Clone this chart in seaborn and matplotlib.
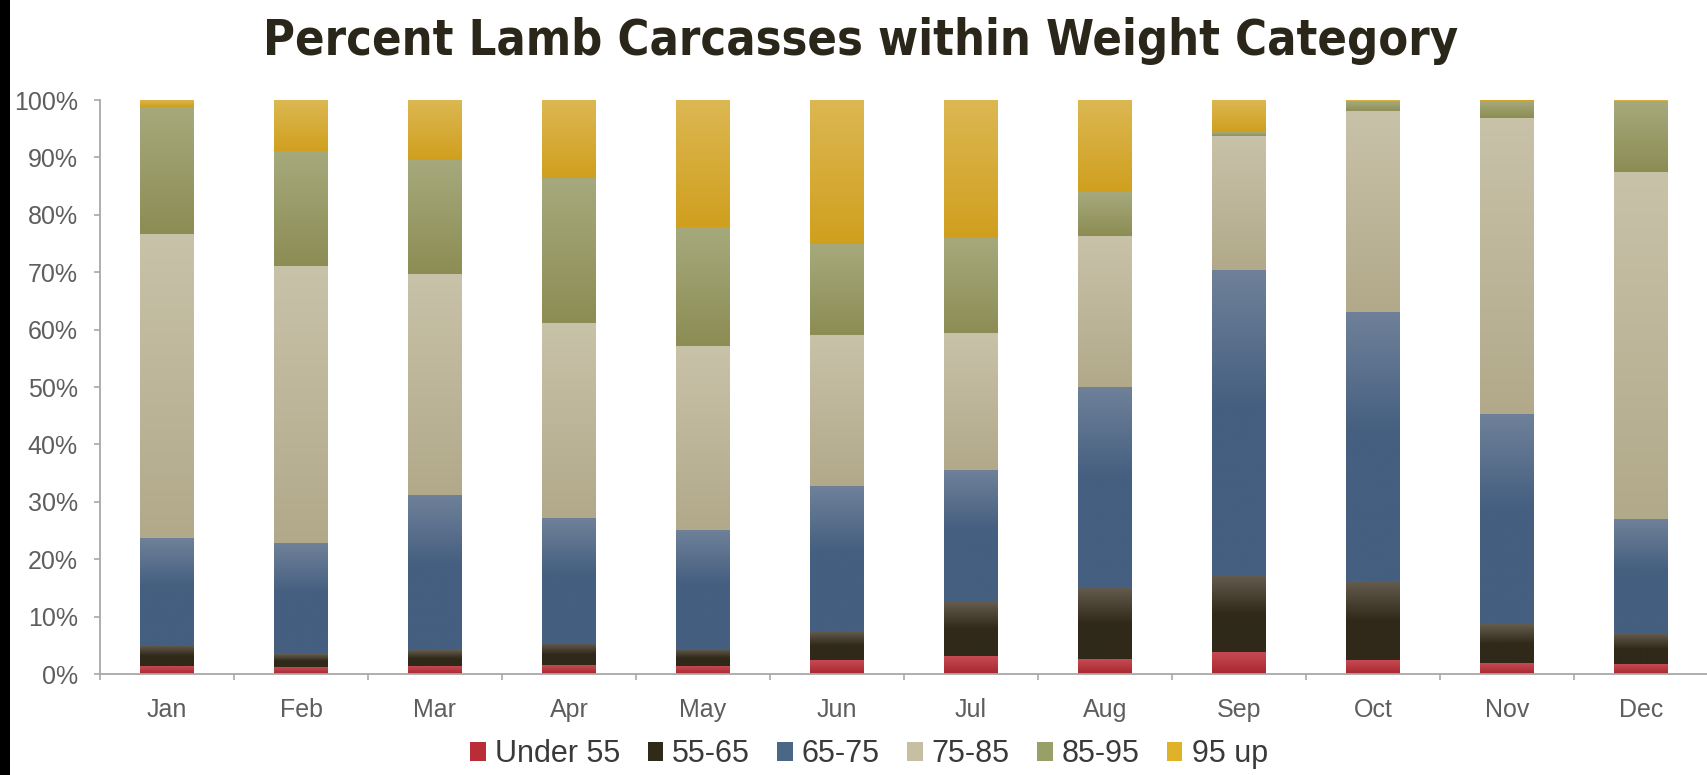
import os
import numpy as np
import pandas as pd
import matplotlib
matplotlib.use("Agg")
import matplotlib.pyplot as plt
import seaborn as sns
from matplotlib import font_manager
from matplotlib.patches import Patch, Rectangle
from matplotlib.colors import to_rgb

months = ["Jan", "Feb", "Mar", "Apr", "May", "Jun",
          "Jul", "Aug", "Sep", "Oct", "Nov", "Dec"]
categories = ["Under 55", "55-65", "65-75", "75-85", "85-95", "95 up"]

# Share of lamb carcasses (%) in each weight class, by month
under_55 = [1.3, 1.1, 1.3, 1.4, 1.3, 2.4, 3.1, 2.5, 3.7, 2.3, 1.8, 1.6]
w_55_65 = [3.8, 2.4, 2.8, 4.0, 3.1, 5.0, 9.4, 12.7, 13.5, 13.9, 6.9, 5.5]
w_65_75 = [18.5, 19.3, 27.0, 21.7, 20.6, 25.4, 22.9, 34.8, 53.0, 46.8, 36.5, 19.8]
w_75_85 = [53.0, 48.1, 38.4, 33.9, 32.2, 26.3, 23.9, 26.3, 23.4, 34.9, 51.7, 60.6]
w_85_95 = [22.1, 20.1, 20.0, 25.4, 20.7, 15.8, 16.6, 7.6, 0.8, 1.8, 2.9, 12.2]
w_95_up = [1.3, 9.0, 10.5, 13.6, 22.1, 25.1, 24.1, 16.1, 5.6, 0.3, 0.2, 0.3]

y_ticks = list(range(0, 101, 10))
y_tick_labels = [f"{v}%" for v in y_ticks]

# segment shading: darker base colour, lighter tone at the top of each segment
base_colors = ["#a9272f", "#30291a", "#455f80", "#b2a98a", "#8c8d54", "#d09f1e"]
top_colors = ["#c64a53", "#645d4f", "#6f8199", "#c8c2a9", "#a6a97c", "#dcb853"]
fade_depth = [1.0, 0.5, 0.45, 1.0, 1.0, 1.0]
legend_colors = ["#b82d38", "#2f2a1a", "#4b6787", "#c6bfa4", "#98a067", "#e0b22a"]

axis_gray = "#a8a8a8"
tick_text = "#5e5e5e"


def heavy_condensed_font():
    """Pick a heavy, narrow face for the headline if one is installed."""
    files = {}
    for f in font_manager.fontManager.ttflist:
        files.setdefault(os.path.splitext(os.path.basename(f.fname))[0], f.fname)
    preferred = ["NotoSans-CondensedBlack", "NotoSans-CondensedExtraBold",
                 "NotoSans-CondensedBold", "LiberationSansNarrow-Bold",
                 "DejaVuSansCondensed-Bold", "RobotoCondensed-Bold",
                 "OpenSans-CondBold", "OpenSansCondensed-Bold"]
    for name in preferred:
        if name in files:
            return font_manager.FontProperties(fname=files[name])
    for key in sorted(files):
        low = key.lower()
        if ("condensed" in low or "narrow" in low) and "bold" in low \
                and "italic" not in low and "extracondensed" not in low:
            return font_manager.FontProperties(fname=files[key])
    return font_manager.FontProperties(family="DejaVu Sans", weight="bold")


sns.set_theme(style="white")
plt.rcParams["font.family"] = ["Liberation Sans", "DejaVu Sans"]

W, H = 1707, 775
fig = plt.figure(figsize=(W / 100, H / 100), dpi=100)
fig.patch.set_facecolor("white")
ax = fig.add_axes([100 / W, 101 / H, 1608 / W, 574 / H])

shares = np.array([under_55, w_55_65, w_65_75, w_75_85, w_85_95, w_95_up])
tops = shares.cumsum(axis=0)
bottoms = tops - shares

df = pd.DataFrame(tops.T, columns=categories)
df["month"] = months

# stacked bars: draw cumulative totals from the top layer down
layer_bars = {}
for k in reversed(range(len(categories))):
    n0 = len(ax.patches)
    sns.barplot(data=df, x="month", y=categories[k], order=months,
                color=base_colors[k], saturation=1, width=0.4,
                errorbar=None, ax=ax, zorder=1)
    layer_bars[k] = ax.patches[n0:]


def shade(top, base, depth, n=256):
    t = np.linspace(0, 1, n)
    f = np.clip(t / depth, 0, 1)[:, None]
    c = np.array(to_rgb(top)) * (1 - f) + np.array(to_rgb(base)) * f
    return c[:, None, :]


for k, bars in layer_bars.items():
    img = shade(top_colors[k], base_colors[k], fade_depth[k])
    for i, bar in enumerate(bars):
        if shares[k, i] <= 0:
            continue
        x0, w = bar.get_x(), bar.get_width()
        ax.imshow(img, extent=(x0, x0 + w, bottoms[k, i], tops[k, i]),
                  aspect="auto", interpolation="bilinear", zorder=2)

ax.set_xlim(-0.5, len(months) - 0.5)
ax.set_ylim(0, 100)
ax.set_xlabel("")
ax.set_ylabel("")

ax.set_yticks(y_ticks)
ax.set_yticklabels(y_tick_labels)
ax.set_xticks(range(len(months)))
ax.set_xticklabels(months)
ax.set_xticks(np.arange(-0.5, len(months), 1), minor=True)

ax.tick_params(axis="x", which="major", bottom=False, length=0, pad=17,
               labelsize=18, labelcolor=tick_text)
ax.tick_params(axis="x", which="minor", bottom=True, length=4, width=1.2,
               color=axis_gray, direction="out")
ax.tick_params(axis="y", left=True, length=4, width=1.2, color=axis_gray,
               direction="out", pad=12, labelsize=18, labelcolor=tick_text)

for side in ("top", "right"):
    ax.spines[side].set_visible(False)
for side in ("left", "bottom"):
    ax.spines[side].set_color(axis_gray)
    ax.spines[side].set_linewidth(1.3)

# dark strip along the left edge
fig.patches.append(Rectangle((0, 0), 10 / W, 1, transform=fig.transFigure,
                             facecolor="black", edgecolor="none", zorder=10))

title_font = heavy_condensed_font()
title_font.set_size(40)
title = fig.text(861 / W, 1 - 41 / H,
                 "Percent Lamb Carcasses within Weight Category",
                 ha="center", va="center", color="#2a2619",
                 fontproperties=title_font)
fig.canvas.draw()
width_px = title.get_window_extent(fig.canvas.get_renderer()).width
title.set_fontsize(40 * 1195 / width_px)

handles = [Patch(facecolor=c, edgecolor="none", label=lab)
           for c, lab in zip(legend_colors, categories)]
fig.legend(handles=handles, loc="center", bbox_to_anchor=(869 / W, 21 / H),
           ncol=6, frameon=False, fontsize=22, handlelength=0.5,
           handleheight=0.6, handletextpad=0.3, columnspacing=0.9,
           labelcolor="#3a3a3a", borderpad=0)

fig.savefig("out.png", dpi=100, facecolor="white")
